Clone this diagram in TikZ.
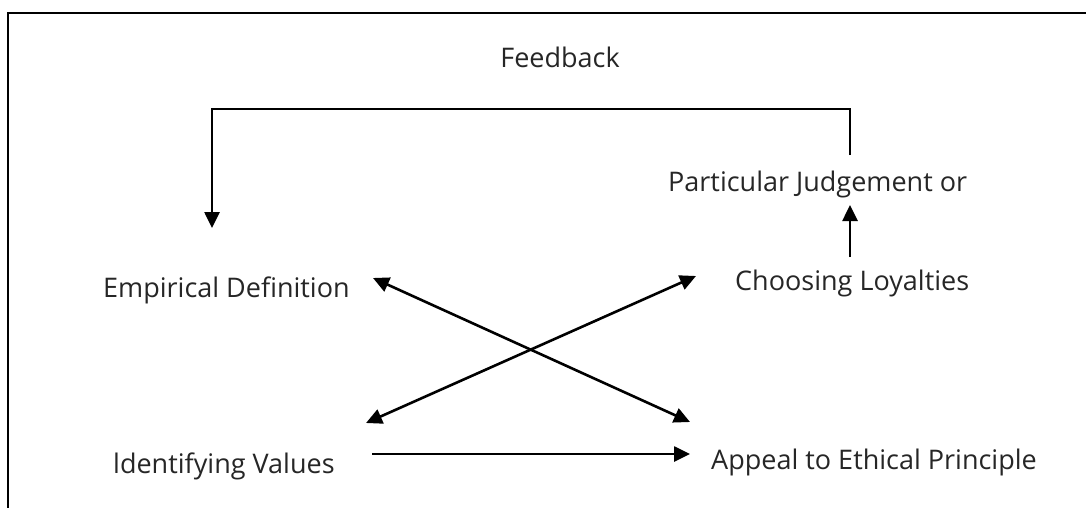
\documentclass[tikz,border=0pt]{standalone}
\usepackage{fontspec}
\setmainfont{Open Sans}
\usetikzlibrary{arrows.meta}
\begin{document}
\begin{tikzpicture}[x=1pt,y=-1pt,
  lbl/.style={inner sep=0pt,font=\fontsize{27}{32}\selectfont,text=black!85},
  tip/.tip={Triangle[length=16pt,width=15pt]},
  conn/.style={line width=2.6pt,-tip},
  both/.style={line width=2.6pt,tip-tip},
  frame/.style={line width=2.6pt}]
\useasboundingbox (0,0) rectangle (1086,508);
% frame
\coordinate (fbl) at (8,508);
\coordinate (ftl) at (8,13);
\coordinate (ftr) at (1086,13);
\draw[frame] (fbl) -- (ftl) -- (ftr);
% labels
\node[lbl] (fb) at (560,57) {Feedback};
\node[lbl,anchor=west] (pj) at (668,184) {Particular Judgement or};
\node[lbl,anchor=west] (cl) at (735,283) {Choosing Loyalties};
\node[lbl,anchor=west] (ed) at (103,290) {Empirical Definition};
\node[lbl,anchor=west] (iv) at (113,466) {ldentifying Values};
\node[lbl,anchor=west] (ap) at (711,462) {Appeal to Ethical Principle};
% connector end points
\coordinate (fbs) at (850,155);
\coordinate (fbr) at (850,109);
\coordinate (fbl2) at (212,109);
\coordinate (fbe) at (212,228);
\coordinate (cls) at (850,257);
\coordinate (pje) at (850,205);
\coordinate (eda) at (373,278);
\coordinate (apa) at (690,422);
\coordinate (cla) at (696,276);
\coordinate (iva) at (366,423);
\coordinate (ivs) at (372,454);
\coordinate (ape) at (690,454);
% connectors
\draw[conn] (fbs) -- (fbr) -- (fbl2) -- (fbe);
\draw[conn] (cls) -- (pje);
\draw[both] (eda) -- (apa);
\draw[both] (iva) -- (cla);
\draw[conn] (ivs) -- (ape);
\end{tikzpicture}
\end{document}
